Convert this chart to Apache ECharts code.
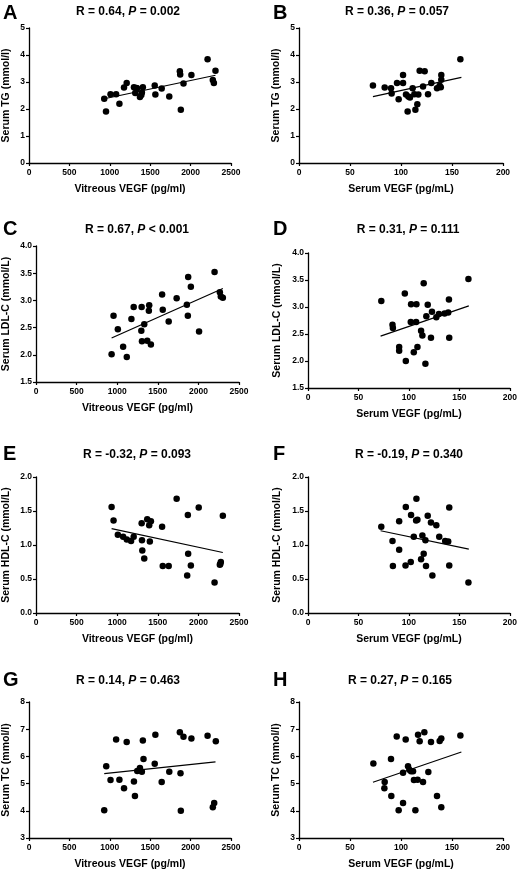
<!DOCTYPE html>
<html><head><meta charset="utf-8">
<script src="https://cdn.jsdelivr.net/npm/echarts@6/dist/echarts.min.js"></script>
<style>html,body{margin:0;padding:0;background:#fff}#c{width:520px;height:871px}</style>
</head><body><div id="c"></div>
<script>
// Panel A: Vitreous VEGF vs Serum TG
const ptsA = [[931,2.38],[953,1.91],[1009,2.55],[1078,2.55],[1119,2.19],[1176,2.80],[1209,2.96],[1299,2.81],[1315,2.59],[1336,2.77],[1373,2.44],[1397,2.61],[1409,2.81],[1556,2.87],[1564,2.54],[1642,2.76],[1736,2.46],[1867,3.40],[1871,3.28],[1879,1.97],[1912,2.94],[2010,3.26],[2210,3.84],[2275,3.07],[2288,2.96],[2308,3.42],[1390,2.52],[1330,2.78]];
const fitA = [[931,2.38],[2308,3.25]];
// Panel B: Serum VEGF vs Serum TG
const ptsB = [[72.5,2.87],[84.0,2.80],[90.2,2.77],[90.8,2.57],[96.1,2.96],[97.7,2.36],[102.0,3.26],[102.0,2.96],[104.9,2.54],[107.2,2.46],[106.5,1.91],[108.8,2.43],[111.4,2.77],[113.1,2.55],[114.1,1.97],[116.0,2.18],[117.0,2.54],[118.3,3.42],[121.6,2.83],[123.2,3.40],[126.5,2.55],[129.7,2.96],[135.3,2.77],[137.9,2.86],[139.5,3.26],[139.5,3.08],[158.2,3.84],[139.0,2.81]];
const fitB = [[72.5,2.46],[159.2,3.17]];
// Panel C: Vitreous VEGF vs Serum LDL-C
const ptsC = [[931,2.01],[955,2.72],[1008,2.47],[1073,2.15],[1118,1.96],[1175,2.66],[1203,2.88],[1301,2.88],[1297,2.44],[1305,2.25],[1333,2.56],[1370,2.26],[1394,2.91],[1390,2.81],[1415,2.19],[1553,3.11],[1561,2.83],[1634,2.61],[1732,3.04],[1858,2.92],[1870,2.72],[1874,3.43],[1907,3.25],[2008,2.43],[2199,3.52],[2264,3.15],[2276,3.07],[2301,3.05]];
const fitC = [[931,2.31],[2301,3.22]];
// Panel D: Serum VEGF vs Serum LDL-C
const ptsD = [[72.6,3.11],[83.7,2.67],[84.1,2.61],[90.3,2.26],[90.3,2.19],[95.9,3.25],[96.9,2.00],[102.1,3.05],[101.8,2.72],[104.8,2.16],[107.1,2.72],[107.4,3.05],[108.4,2.26],[112.0,2.56],[113.3,2.47],[114.6,3.44],[116.3,1.95],[117.2,2.83],[118.6,3.04],[121.8,2.43],[122.8,2.91],[127.1,2.81],[129.7,2.87],[135.3,2.88],[138.9,2.90],[139.6,3.14],[139.9,2.43],[158.9,3.52]];
const fitD = [[71.9,2.46],[159.3,3.02]];
// Panel E: Vitreous VEGF vs Serum HDL-C
const ptsE = [[931,1.56],[955,1.36],[1008,1.15],[1073,1.12],[1118,1.08],[1171,1.06],[1203,1.12],[1301,1.32],[1305,1.07],[1309,0.92],[1333,0.80],[1370,1.38],[1394,1.29],[1415,1.35],[1402,1.05],[1553,1.27],[1561,0.69],[1634,0.69],[1732,1.68],[1862,0.55],[1870,1.44],[1874,0.87],[1907,0.70],[2004,1.55],[2199,0.45],[2264,0.71],[2276,0.75],[2301,1.43],[2270,0.72]];
const fitE = [[931,1.24],[2301,0.89]];
// Panel F: Serum VEGF vs Serum HDL-C
const ptsF = [[72.6,1.27],[83.7,1.06],[84.1,0.69],[90.3,0.93],[90.3,1.35],[96.9,1.56],[96.6,0.70],[102.1,1.44],[101.8,0.75],[104.8,1.12],[107.1,1.36],[107.4,1.68],[108.4,1.37],[112.0,0.79],[113.3,1.14],[114.6,0.87],[116.3,1.07],[116.9,0.69],[118.6,1.43],[121.8,1.33],[123.2,0.55],[127.1,1.29],[130.0,1.12],[135.9,1.06],[138.9,1.05],[139.9,1.55],[139.9,0.70],[158.9,0.45]];
const fitF = [[71.9,1.21],[159.3,0.94]];
// Panel G: Vitreous VEGF vs Serum TC
const ptsG = [[931,4.02],[956,5.64],[1009,5.13],[1078,6.62],[1119,5.14],[1176,4.83],[1209,6.53],[1299,5.08],[1311,4.54],[1340,5.46],[1373,5.57],[1397,5.44],[1409,6.58],[1417,5.90],[1556,5.73],[1564,6.80],[1642,5.06],[1736,5.44],[1867,6.89],[1875,5.38],[1879,4.00],[1912,6.72],[2010,6.66],[2210,6.76],[2275,4.13],[2292,4.29],[2312,6.56]];
const fitG = [[931,5.37],[2308,5.80]];
// Panel H: Serum VEGF vs Serum TC
const ptsH = [[72.9,5.74],[84.0,5.06],[83.7,4.83],[90.2,5.90],[90.5,4.54],[95.8,6.73],[97.7,4.02],[102.0,4.29],[102.0,5.40],[104.6,6.62],[106.9,5.64],[108.2,5.51],[109.8,5.45],[111.8,5.45],[112.7,5.13],[114.1,4.02],[116.3,5.14],[116.7,6.80],[118.3,6.56],[121.6,5.06],[122.9,6.89],[126.8,5.43],[129.4,6.53],[135.3,4.54],[137.9,6.57],[139.5,6.66],[139.5,4.13],[158.2,6.77]];
const fitH = [[72.5,5.05],[159.2,6.16]];

const panelLetters = ['A','B','C','D','E','F','G','H'];
const panelTitles = [
  ['0.64','= 0.002'],['0.36','= 0.057'],['0.67','< 0.001'],['0.31','= 0.111'],
  ['-0.32','= 0.093'],['-0.19','= 0.340'],['0.14','= 0.463'],['0.27','= 0.165']
];
const xNames = ['Vitreous VEGF (pg/ml)','Serum VEGF (pg/mL)'];
const yNames = ['Serum TG (mmol/l)','Serum TG (mmol/l)','Serum LDL-C (mmol/L)','Serum LDL-C (mmol/L)',
  'Serum HDL-C (mmol/L)','Serum HDL-C (mmol/L)','Serum TC (mmol/l)','Serum TC (mmol/l)'];
const yRanges = [[0,5,1],[0,5,1],[1.5,4.0,0.5],[1.5,4.0,0.5],[0,2.0,0.5],[0,2.0,0.5],[3,8,1],[3,8,1]];
const xRanges = [[0,2500,500],[0,200,50]];
const allPts = [ptsA,ptsB,ptsC,ptsD,ptsE,ptsF,ptsG,ptsH];
const allFits = [fitA,fitB,fitC,fitD,fitE,fitF,fitG,fitH];

// layout (pixels)
const grids = [
  {left:27,top:28,width:204,height:135},
  {left:299,top:28,width:204,height:135},
  {left:34,top:246,width:205,height:136},
  {left:308,top:253,width:203,height:135},
  {left:34,top:477,width:205,height:136},
  {left:308,top:477,width:203,height:136},
  {left:27,top:702,width:204,height:136},
  {left:299,top:702,width:204,height:136}
];
const yNameGaps = [17,17,24,25,24,25,17,17];
const titlePos = [[128,12],[397,12],[137,230],[408,230],[137,455],[409,455],[128,681],[400,681]];
const letterPos = [[3,13],[273,13],[3,229],[273,229],[3,454],[273,454],[3,680],[273,680]];

const FF = '"Liberation Sans", Arial, sans-serif';
const chart = echarts.init(document.getElementById('c'), null, {renderer:'canvas'});
const xAxis = [], yAxis = [], series = [], graphic = [];
grids.forEach((g,i)=>{
  const xr = xRanges[i%2], yr = yRanges[i];
  const dec = (yr[2] < 1) ? 1 : 0;
  xAxis.push({type:'value', gridIndex:i, min:xr[0], max:xr[1], interval:xr[2],
    name:xNames[i%2], nameLocation:'middle', nameGap:21,
    nameTextStyle:{color:'#000', fontWeight:'bold', fontSize:10.5, fontFamily:FF},
    axisLine:{show:true, onZero:false, lineStyle:{color:'#000', width:1.3}},
    axisTick:{show:true, length:3, lineStyle:{color:'#000', width:1.2}},
    axisLabel:{color:'#000', fontWeight:'bold', fontSize:8.5, fontFamily:FF, margin:5, showMaxLabel:true,
      formatter:(v)=>String(v)},
    splitLine:{show:false}});
  yAxis.push({type:'value', gridIndex:i, min:yr[0], max:yr[1], interval:yr[2],
    name:yNames[i], nameLocation:'middle', nameGap:yNameGaps[i], nameRotate:90,
    nameTextStyle:{color:'#000', fontWeight:'bold', fontSize:10.5, fontFamily:FF},
    axisLine:{show:true, onZero:false, lineStyle:{color:'#000', width:1.3}},
    axisTick:{show:true, length:3, lineStyle:{color:'#000', width:1.2}},
    axisLabel:{color:'#000', fontWeight:'bold', fontSize:8.5, fontFamily:FF, margin:4,
      formatter:(v)=>v.toFixed(dec)},
    splitLine:{show:false}});
  series.push({type:'scatter', xAxisIndex:i, yAxisIndex:i, data:allPts[i], symbolSize:6.5,
    itemStyle:{color:'#000', opacity:1}, silent:true});
  series.push({type:'line', xAxisIndex:i, yAxisIndex:i, data:allFits[i], symbol:'none',
    lineStyle:{color:'#000', width:1.2}, silent:true});
  graphic.push({type:'text', x:titlePos[i][0], y:titlePos[i][1], silent:true,
    style:{text:'R = '+panelTitles[i][0]+', {i|P} '+panelTitles[i][1],
      align:'center', verticalAlign:'middle', fill:'#000',
      font:'bold 12px '+FF,
      rich:{i:{fontStyle:'italic', fontWeight:'bold', fontSize:12, fontFamily:FF, fill:'#000'}}}});
  graphic.push({type:'text', x:letterPos[i][0], y:letterPos[i][1], silent:true,
    style:{text:panelLetters[i], align:'left', verticalAlign:'middle', fill:'#000',
      font:'bold 20px '+FF}});
});
chart.setOption({animation:false, backgroundColor:'#fff', grid:grids.map(g=>Object.assign({containLabel:false},g)),
  xAxis, yAxis, series, graphic});
</script></body></html>
